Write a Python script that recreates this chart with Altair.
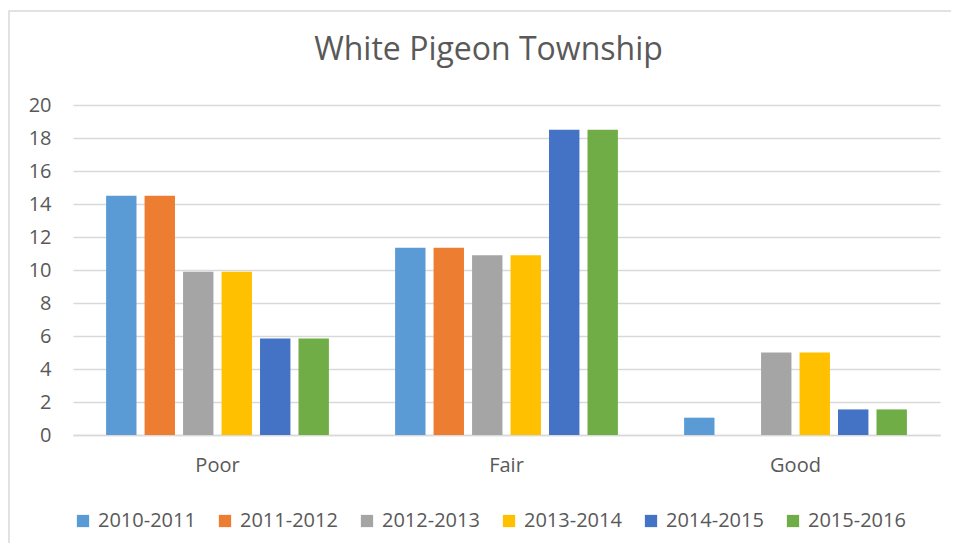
import altair as alt
import pandas as pd

categories = ["Poor", "Fair", "Good"]
seasons = ["2010-2011", "2011-2012", "2012-2013", "2013-2014", "2014-2015", "2015-2016"]
poor = [14.5, 14.5, 9.9, 9.9, 5.85, 5.85]
fair = [11.35, 11.35, 10.9, 10.9, 18.5, 18.5]
good = [1.05, 0, 5.0, 5.0, 1.55, 1.55]
colors = ["#5B9BD5", "#ED7D31", "#A5A5A5", "#FFC000", "#4472C4", "#70AD47"]
y_ticks = [0, 2, 4, 6, 8, 10, 12, 14, 16, 18, 20]

rows = []
for cat, vals in zip(categories, [poor, fair, good]):
    for s, v in zip(seasons, vals):
        rows.append({"Condition": cat, "Season": s, "Value": v})
df = pd.DataFrame(rows)

FONT = "Open Sans"
TXT = "#595959"
GRID = "#D9D9D9"

bars = alt.Chart(df).mark_bar().encode(
    x=alt.X("Condition:N", sort=categories, title=None,
            scale=alt.Scale(paddingInner=0, paddingOuter=0),
            axis=alt.Axis(labelAngle=0, ticks=False, domainColor=GRID, domainWidth=1.5,
                          labelPadding=20, labelFontSize=20, labelColor=TXT, labelFont=FONT,
                          grid=False)),
    xOffset=alt.XOffset("Season:N", sort=seasons,
                        scale=alt.Scale(paddingInner=0.21, paddingOuter=0.86)),
    y=alt.Y("Value:Q", title=None,
            scale=alt.Scale(domain=[0, 20], nice=False),
            axis=alt.Axis(values=y_ticks, domain=False, ticks=False, labelPadding=22,
                          labelFontSize=20, labelColor=TXT, labelFont=FONT,
                          gridColor=GRID, gridWidth=1.5)),
    color=alt.Color("Season:N", sort=seasons,
                    scale=alt.Scale(domain=seasons, range=colors),
                    legend=alt.Legend(title=None, orient="none", direction="horizontal",
                                      columns=6, legendX=0, legendY=406,
                                      symbolType="square", symbolSize=150,
                                      symbolStrokeWidth=0, labelFontSize=20,
                                      labelColor=TXT, labelFont=FONT,
                                      columnPadding=19, labelOffset=5)),
)

border = alt.Chart(pd.DataFrame({"b": [0]})).mark_rect(
    fillOpacity=0, stroke=GRID, strokeWidth=1.5
).encode(
    x=alt.value(-64), x2=alt.value(1000), y=alt.value(-94), y2=alt.value(1000)
)

chart = alt.layer(border, bars).properties(
    width=867, height=330,
    title=alt.TitleParams("White Pigeon Township", anchor="middle", dx=-18,
                          fontSize=32, font=FONT, fontWeight="normal", color=TXT,
                          offset=-57),
    autosize=alt.AutoSizeParams(type="none"),
    padding={"left": 65, "top": 97, "right": 11, "bottom": 108},
).configure_view(stroke=None)

chart.save("out.html", embed_options={"renderer": "svg", "actions": False})
